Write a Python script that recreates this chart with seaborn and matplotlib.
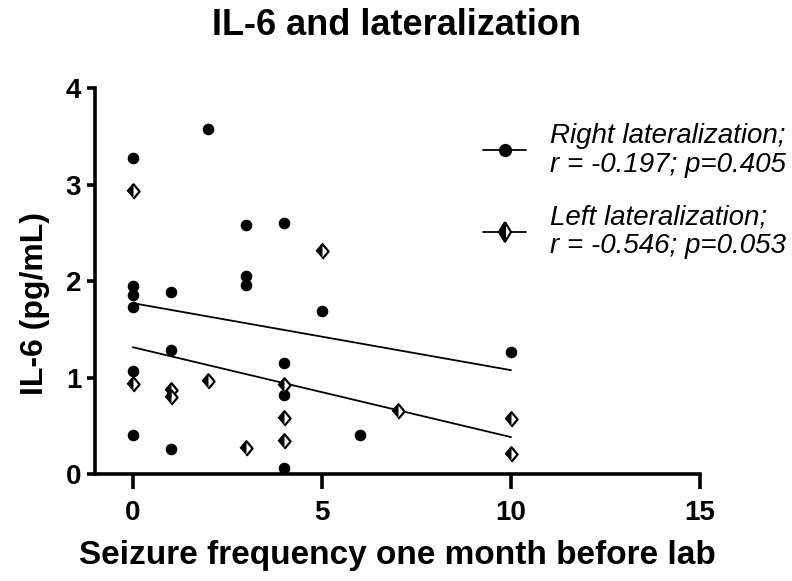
import matplotlib
matplotlib.use('Agg')
import matplotlib.pyplot as plt
import seaborn as sns
import pandas as pd
from matplotlib.lines import Line2D

# Right lateralization (filled circles)
right_x = [0, 0, 0, 0, 0, 0, 1, 1, 1, 2, 3, 3, 3, 4, 4, 4, 4, 5, 6, 10]
right_y = [3.27, 1.95, 1.86, 1.73, 1.07, 0.41, 1.89, 1.29, 0.26, 3.58,
           2.58, 2.05, 1.96, 2.60, 1.15, 0.82, 0.06, 1.69, 0.40, 1.26]

# Left lateralization (half-filled diamonds)
left_x = [0, 0, 1, 1, 2, 3, 4, 4, 4, 5, 7, 10, 10]
left_y = [2.93, 0.93, 0.87, 0.80, 0.96, 0.27, 0.92, 0.58, 0.34, 2.31, 0.65, 0.57, 0.21]

right_label = 'Right lateralization;\nr = -0.197; p=0.405'
left_label = 'Left lateralization;\nr = -0.546; p=0.053'

dfr = pd.DataFrame({'freq': right_x, 'il6': right_y})
dfl = pd.DataFrame({'freq': left_x, 'il6': left_y})

sns.set_style('ticks')
plt.rcParams['font.family'] = ['Liberation Sans', 'DejaVu Sans']
plt.rcParams['text.color'] = 'black'
plt.rcParams['axes.labelcolor'] = 'black'
plt.rcParams['xtick.color'] = 'black'
plt.rcParams['ytick.color'] = 'black'
plt.rcParams['axes.edgecolor'] = 'black'

# diamond a bit wider than the thin 'd' marker, and its left half
diamond = [(-0.42, 0), (0, 0.5), (0.42, 0), (0, -0.5)]
half_diamond = [(-0.42, 0), (0, 0.5), (0, -0.5)]

fig = plt.figure(figsize=(7.92, 5.81), dpi=100)
ax = fig.add_axes([0.12, 0.184, 0.764, 0.6645])

# regression lines
sns.regplot(data=dfr, x='freq', y='il6', scatter=False, ci=None, ax=ax,
            line_kws={'color': 'black', 'lw': 1.3})
sns.regplot(data=dfl, x='freq', y='il6', scatter=False, ci=None, ax=ax,
            line_kws={'color': 'black', 'lw': 1.3})

# points
sns.scatterplot(data=dfr, x='freq', y='il6', ax=ax, color='black', s=70,
                marker='o', linewidth=0, zorder=3)
sns.scatterplot(data=dfl, x='freq', y='il6', ax=ax, marker=diamond, s=110,
                facecolor='white', edgecolor='black', linewidth=1.6, zorder=3)
sns.scatterplot(data=dfl, x='freq', y='il6', ax=ax, marker=half_diamond, s=110,
                color='black', linewidth=0, zorder=4)

ax.set_xlim(-1, 15)
ax.set_ylim(0, 4)
ax.set_xticks([0, 5, 10, 15])
ax.set_yticks([0, 1, 2, 3, 4])
sns.despine(ax=ax)
for side in ['left', 'bottom']:
    ax.spines[side].set_linewidth(2.6)
    ax.spines[side].set_capstyle('projecting')
ax.tick_params(axis='x', length=11, width=2.6, pad=8, labelsize=20)
ax.tick_params(axis='y', length=6, width=2.6, pad=4, labelsize=20)
for lab in ax.get_xticklabels() + ax.get_yticklabels():
    lab.set_fontweight('bold')

ax.set_xlabel('Seizure frequency one month before lab', fontsize=24,
              fontweight='bold', labelpad=10)
ax.set_ylabel('IL-6 (pg/mL)', fontsize=23, fontweight='bold')
ax.yaxis.set_label_coords(-0.075, 0.443)

fig.text(0.5, 1 - 35 / 581, 'IL-6 and lateralization', ha='center',
         va='baseline', fontsize=26, fontweight='bold')

handles = [
    Line2D([], [], color='black', lw=1.3, marker='o', markersize=8.5),
    Line2D([], [], color='black', lw=1.3, marker='d', markersize=10,
           fillstyle='left', markerfacecolor='black',
           markerfacecoloralt='white', markeredgewidth=1.5),
]
leg = ax.legend(handles, [right_label, left_label], loc='upper left',
                bbox_to_anchor=(0.6, 0.975), frameon=False,
                prop={'size': 20, 'style': 'italic'}, handlelength=1.55,
                handletextpad=0.85, labelspacing=0.95)
for t in leg.get_texts():
    t.set_linespacing(1.15)

plt.savefig('out.png', dpi=100)
